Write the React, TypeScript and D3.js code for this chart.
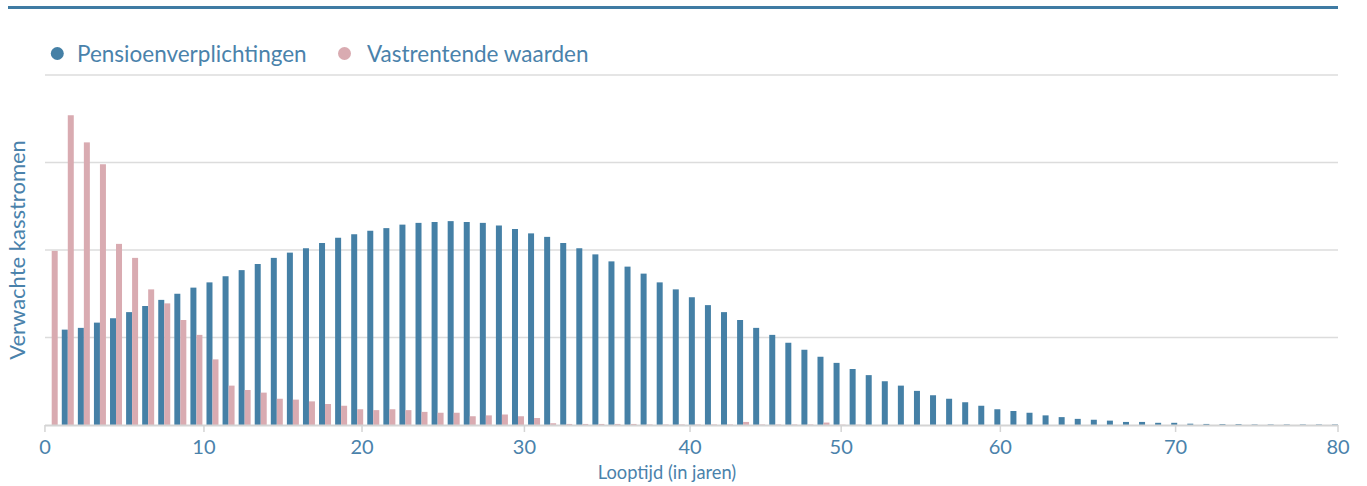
import React from "react";
import * as d3 from "d3";

// Looptijd categories (years 0..80)
const years: number[] = Array.from({ length: 81 }, (_, i) => i);

// Pensioenverplichtingen (expected cash flows)
const pensioen: number[] = [
  0,
  1.09, 1.11, 1.17, 1.22, 1.29, 1.36, 1.43, 1.5, 1.57, 1.63,
  1.7, 1.77, 1.84, 1.91, 1.97, 2.02, 2.08, 2.14, 2.18, 2.22,
  2.25, 2.29, 2.31, 2.32, 2.33, 2.32, 2.31, 2.28, 2.24, 2.19,
  2.15, 2.08, 2.02, 1.95, 1.87, 1.81, 1.73, 1.63, 1.55, 1.46,
  1.37, 1.29, 1.2, 1.11, 1.03, 0.94, 0.86, 0.78, 0.71, 0.64,
  0.57, 0.5, 0.45, 0.39, 0.34, 0.3, 0.26, 0.22, 0.18, 0.16,
  0.14, 0.11, 0.09, 0.07, 0.06, 0.05, 0.035, 0.035, 0.025, 0.025,
  0.015, 0.012, 0.01, 0.01, 0.006, 0.006, 0.006, 0.006, 0.006, 0.006,
];

// Vastrentende waarden
const vastrentend: number[] = [
  1.99, 3.54, 3.23, 2.98, 2.07, 1.91, 1.55, 1.39, 1.2, 1.03,
  0.75, 0.45, 0.4, 0.37, 0.3, 0.29, 0.27, 0.24, 0.22, 0.18,
  0.17, 0.18, 0.17, 0.15, 0.14, 0.14, 0.1, 0.11, 0.12, 0.1,
  0.08, 0.02, 0.012, 0.012, 0.012, 0.012, 0.012, 0.006, 0.006, 0.006,
  0.006, 0.006, 0.006, 0.035, 0.006, 0.006, 0.006, 0.006, 0.028, 0.004,
  0.004, 0, 0, 0, 0, 0, 0, 0, 0, 0,
  0, 0, 0, 0, 0, 0, 0, 0, 0, 0,
  0, 0, 0, 0, 0, 0, 0, 0, 0, 0, 0,
];

const seriesNames = ["Pensioenverplichtingen", "Vastrentende waarden"];
const seriesColors = ["#4580a6", "#d9abb1"];

// x-axis tick labels and where they sit (in category units)
const tickLabels = ["0", "10", "20", "30", "40", "50", "60", "70", "80"];
const tickAt = [-0.42, 9.47, 19.3, 29.4, 39.7, 49.1, 59.0, 69.9, 80.0];

const yGridValues = [1, 2, 3, 4];

const W = 1367;
const H = 486;
const FONT = "Lato, 'Open Sans', sans-serif";
const TEXT = "#4a82ab";

export default function App() {
  const plotLeft = 45;
  const plotRight = 1338;
  const plotTop = 75;
  const plotBottom = 425;

  const firstCenter = 51.7;
  const lastCenter = 1338;
  const step = (lastCenter - firstCenter) / (years.length - 1);

  const x = d3
    .scaleBand<number>()
    .domain(years)
    .range([firstCenter - step / 2, lastCenter + step / 2])
    .paddingInner(0.254)
    .paddingOuter(0.127);

  const xInner = d3
    .scaleBand<string>()
    .domain(seriesNames)
    .range([0, x.bandwidth()]);

  const xTick = d3
    .scaleLinear()
    .domain([0, years.length - 1])
    .range([firstCenter, lastCenter]);

  const y = d3.scaleLinear().domain([0, 4]).range([plotBottom, plotTop]);

  const data = [pensioen, vastrentend];

  return (
    <svg width={W} height={H} style={{ display: "block", position: "absolute", left: 0, top: 0 }}>
      <rect width={W} height={H} fill="#fff" />
      {/* top rule */}
      <line x1={8} x2={plotRight} y1={7.5} y2={7.5} stroke="#3f7ba3" strokeWidth={3} />

      {/* legend */}
      <g fontFamily={FONT} fontSize={22.5} fill={TEXT}>
        <circle cx={57.3} cy={53.5} r={6.5} fill={seriesColors[0]} />
        <text x={77} y={61.5}>{seriesNames[0]}</text>
        <circle cx={344.5} cy={53.5} r={6.5} fill={seriesColors[1]} />
        <text x={367} y={61.5}>{seriesNames[1]}</text>
      </g>

      {/* gridlines */}
      {yGridValues.map((v) => (
        <line key={v} x1={plotLeft} x2={plotRight} y1={y(v)} y2={y(v)} stroke="#dcdcdc" strokeWidth={1.5} />
      ))}

      {/* bars */}
      {data.map((vals, si) => (
        <g key={si} fill={seriesColors[si]}>
          {years.map((yr, i) =>
            vals[i] > 0 ? (
              <rect
                key={yr}
                x={(x(yr) as number) + (xInner(seriesNames[si]) as number)}
                y={y(vals[i])}
                width={xInner.bandwidth()}
                height={plotBottom - y(vals[i])}
              />
            ) : null
          )}
        </g>
      ))}

      {/* x axis */}
      <line x1={plotLeft} x2={plotRight} y1={plotBottom + 0.5} y2={plotBottom + 0.5} stroke="#d4d4d4" strokeWidth={2} />
      {tickAt.map((t, i) => (
        <g key={i} transform={`translate(${xTick(t)},0)`}>
          <line y1={plotBottom} y2={plotBottom + 7} stroke="#d4d4d4" strokeWidth={1.5} />
          <text
            y={454}
            textAnchor="middle"
            fontFamily={FONT}
            fontSize={20}
            fill={TEXT}
          >
            {tickLabels[i]}
          </text>
        </g>
      ))}
      <text x={667} y={479} textAnchor="middle" fontFamily={FONT} fontSize={18.3} fill={TEXT}>
        Looptijd (in jaren)
      </text>

      {/* y axis title */}
      <text
        transform={`translate(25,${(plotTop + plotBottom) / 2}) rotate(-90)`}
        textAnchor="middle"
        fontFamily={FONT}
        fontSize={22}
        fill={TEXT}
      >
        Verwachte kasstromen
      </text>
    </svg>
  );
}
